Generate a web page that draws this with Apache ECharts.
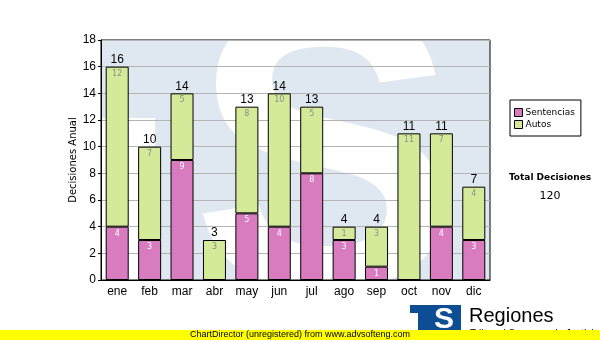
<!DOCTYPE html>
<html>
<head>
<meta charset="utf-8">
<script src="https://cdn.jsdelivr.net/npm/echarts@6/dist/echarts.min.js"></script>
<style>html,body{margin:0;padding:0;background:#fff}#c{width:600px;height:340px}</style>
</head>
<body>
<div id="c"></div>
<script>
var categories = ['ene','feb','mar','abr','may','jun','jul','ago','sep','oct','nov','dic'];
var sentencias = [4,3,9,0,5,4,8,3,1,0,4,3];
var autos = [12,7,5,3,8,10,5,1,3,11,7,4];
var yTicks = [0,2,4,6,8,10,12,14,16,18];
var totals = categories.map(function(_, i){ return sentencias[i] + autos[i]; });
var grandTotal = totals.reduce(function(a,b){ return a+b; }, 0);

var chart = echarts.init(document.getElementById('c'), null, {renderer:'canvas'});
var F = 'Liberation Sans, Arial, sans-serif';
var V = 'DejaVu Sans, Verdana, sans-serif';
var BLUE = '#dfe8f1';

chart.setOption({
  animation: false,
  backgroundColor: '#fff',
  grid: {left:101, top:40, width:389, height:240, show:true, borderColor:'#000', borderWidth:1, backgroundColor:'transparent'},
  legend: {
    data: ['Sentencias','Autos'], orient:'vertical', left:510, top:100,
    itemWidth:8, itemHeight:8, itemGap:3, padding:[8,6,7,4],
    borderColor:'#000', borderWidth:1, backgroundColor:'#fff',
    icon:'rect', itemStyle:{borderColor:'#000', borderWidth:1},
    textStyle:{fontFamily:V, fontSize:9, color:'#000', padding:[0,0,0,-2]}
  },
  xAxis: {
    type:'category', data: categories,
    axisLine:{lineStyle:{color:'#000'}},
    axisTick:{alignWithLabel:true, length:3, lineStyle:{color:'#000'}},
    axisLabel:{fontFamily:F, fontSize:12, color:'#000', margin:6},
    splitLine:{show:false}
  },
  yAxis: {
    type:'value', min:yTicks[0], max:yTicks[yTicks.length-1], interval:2,
    name:'Decisiones Anual', nameLocation:'middle', nameGap:23, nameRotate:90, nameMoveOverlap:false,
    nameTextStyle:{fontFamily:V, fontSize:10, color:'#000'},
    axisLine:{show:true, lineStyle:{color:'#000'}},
    axisTick:{show:true, length:3, lineStyle:{color:'#000'}},
    axisLabel:{fontFamily:F, fontSize:12, color:'#000', margin:5},
    splitLine:{lineStyle:{color:'#b4b4b4'}}
  },
  series: [
    {
      name:'Sentencias', type:'bar', stack:'t', data: sentencias, barWidth:23,
      itemStyle:{color:'#d97cbf', borderColor:'#000', borderWidth:1},
      label:{show:true, position:'insideTop', distance:3, fontFamily:V, fontSize:8, color:'#fff',
        formatter:function(p){ return p.value ? String(p.value) : ''; }},
      z:3
    },
    {
      name:'Autos', type:'bar', stack:'t', data: autos, barWidth:23,
      itemStyle:{color:'#d4ea99', borderColor:'#000', borderWidth:1},
      label:{show:true, position:'insideTop', distance:3, fontFamily:V, fontSize:8, color:'#8e8e8e',
        formatter:function(p){ return p.value ? String(p.value) : ''; }},
      z:3
    },
    {
      name:'Total', type:'bar', stack:'t', data: categories.map(function(){return 0;}), barWidth:23,
      itemStyle:{color:'transparent', borderWidth:0},
      label:{show:true, position:'top', distance:1, fontFamily:F, fontSize:12, color:'#000',
        formatter:function(p){ return String(totals[p.dataIndex]); }},
      z:4
    }
  ],
  graphic: [
    {type:'rect', z:-20, silent:true, shape:{x:101, y:40, width:389, height:240}, style:{fill:BLUE}},
    {type:'rect', z:-19, silent:true, shape:{x:101, y:118, width:54, height:162}, style:{fill:'#fff'}},
    {type:'text', z:-18, silent:true, style:{text:'S', x:325, y:175, font:'bold 400px Liberation Sans', fill:'#fff', align:'center', verticalAlign:'middle'}},
    {type:'rect', z:-17, silent:true, shape:{x:0, y:0, width:101, height:340}, style:{fill:'#fff'}},
    {type:'rect', z:-17, silent:true, shape:{x:0, y:0, width:600, height:40}, style:{fill:'#fff'}},
    {type:'rect', z:-17, silent:true, shape:{x:490, y:0, width:110, height:340}, style:{fill:'#fff'}},
    {type:'rect', z:-17, silent:true, shape:{x:0, y:280, width:600, height:60}, style:{fill:'#fff'}},
    {type:'text', z:10, style:{text:'Total Decisiones', x:550, y:178, font:'bold 9px DejaVu Sans', fill:'#000', align:'center', verticalAlign:'middle'}},
    {type:'text', z:10, style:{text:String(grandTotal), x:550, y:196, font:'11px DejaVu Sans', fill:'#000', align:'center', verticalAlign:'middle'}},
    {type:'rect', z:10, shape:{x:410, y:305, width:51, height:27}, style:{fill:'#0d4d94'}},
    {type:'rect', z:11, shape:{x:410, y:313, width:8, height:19}, style:{fill:'#fff'}},
    {type:'text', z:11, style:{text:'S', x:444, y:320, font:'bold 30px Liberation Sans', fill:'#fff', align:'center', verticalAlign:'middle'}},
    {type:'text', z:10, style:{text:'Regiones', x:469, y:316, font:'20px Liberation Sans', fill:'#000', align:'left', verticalAlign:'middle'}},
    {type:'text', z:10, style:{text:'Tribunal Supremo de Justicia', x:470, y:334, font:'10px Liberation Sans', fill:'#000', align:'left', verticalAlign:'middle'}},
    {type:'rect', z:12, shape:{x:0, y:330, width:600, height:10}, style:{fill:'#ffff00'}},
    {type:'text', z:13, style:{text:'ChartDirector (unregistered) from www.advsofteng.com', x:300, y:335, font:'9px Liberation Sans', fill:'#000', align:'center', verticalAlign:'middle'}}
  ]
});
</script>
</body>
</html>
